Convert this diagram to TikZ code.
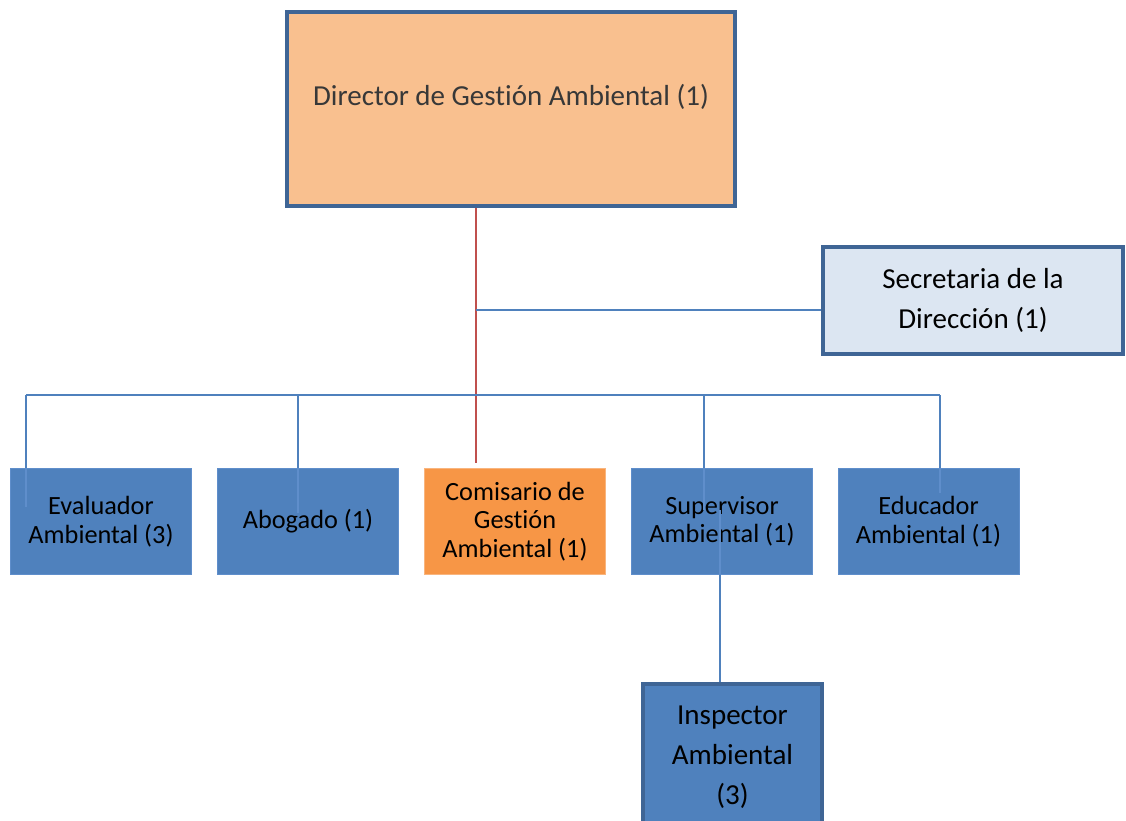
\documentclass[tikz,border=0pt]{standalone}
\usepackage{fontspec}
\setmainfont{Carlito}[RawFeature={-liga;-clig;-calt;-dlig;-rlig}]
\definecolor{bluefill}{HTML}{4F81BD}
\definecolor{bluedark}{HTML}{3F6595}
\definecolor{blueline}{HTML}{4F81BD}
\definecolor{blueinner}{HTML}{5F8ECB}
\definecolor{orangefill}{HTML}{F79646}
\definecolor{peach}{HTML}{F9C08F}
\definecolor{paleblue}{HTML}{DCE6F2}
\definecolor{redline}{HTML}{C0504D}
\begin{document}
\begin{tikzpicture}[x=1pt,y=-1pt,
  bigbox/.style={draw=bluedark,line width=4pt,inner sep=0pt,align=center,font=\fontsize{29}{40}\selectfont},
  smallbox/.style={draw=blueinner,line width=0.8pt,fill=bluefill,inner sep=0pt,minimum width=181pt,minimum height=106pt,align=center,font=\fontsize{26.3}{28.5}\selectfont},
  conn/.style={draw=blueline,line width=2pt},
  inconn/.style={draw=blueinner,line width=2pt}]
\useasboundingbox (0,0) rectangle (1126,820);

\node[bigbox,fill=peach,minimum width=448pt,minimum height=194pt,text=black!78] (director) at (511,109)
  {\raisebox{28pt}{Director de Gest\kern0ptión Ambiental (1)}};
\node[bigbox,fill=paleblue,minimum width=300pt,minimum height=107pt] (secretaria) at (973,300.5)
  {\raisebox{7pt}{\begin{tabular}{@{}c@{}}Secretaria de la\\Dirección (1)\end{tabular}}};

\node[smallbox] (evaluador) at (101,521.5) {Evaluador\\Ambiental (3)};
\node[smallbox] (abogado) at (308,521.5) {Abogado (1)};
\node[smallbox,fill=orangefill,draw=orangefill!70!white] (comisario) at (515,521.5) {Comisario de\\Gest\kern0ptión\\Ambiental (1)};
\node[smallbox] (supervisor) at (722,521.5) {Supervisor\\Ambiental (1)};
\node[smallbox] (educador) at (928.5,521.5) {Educador\\Ambiental (1)};

\node[bigbox,fill=bluefill,minimum width=179pt,minimum height=145pt,anchor=north] (inspector) at (732.5,682)
  {\begin{tabular}{@{}c@{}}Inspector\\Ambiental\\(3)\end{tabular}};

\coordinate (trunk) at (476,463);
\coordinate (barL) at (26,395);
\coordinate (barR) at (940,395);
\coordinate (abx) at (298,395);
\coordinate (supx) at (704,395);
\coordinate (inspx) at (720,510);

% red trunk
\draw[draw=redline,line width=1.6pt] (director.south -| trunk) -- (trunk);
% secretaria branch
\draw[conn] (trunk |- 310,310) -- (secretaria.west |- 310,310);
% bar
\draw[conn] (barL) -- (barR);
% drops
\draw[conn] (barL) -- (barL |- evaluador.north);
\draw[inconn] (barL |- evaluador.north) -- ++(0,39);
\draw[conn] (abx) -- (abx |- abogado.north);
\draw[inconn] (abx |- abogado.north) -- ++(0,45);
\draw[conn] (supx) -- (supx |- supervisor.north);
\draw[inconn] (supx |- supervisor.north) -- ++(0,42);
\draw[conn] (barR) -- (barR |- educador.north);
\draw[inconn] (barR |- educador.north) -- ++(0,25);
% inspector link
\draw[inconn] (inspx) -- (inspx |- supervisor.south);
\draw[conn] (inspx |- supervisor.south) -- (inspx |- inspector.north);
\end{tikzpicture}
\end{document}
